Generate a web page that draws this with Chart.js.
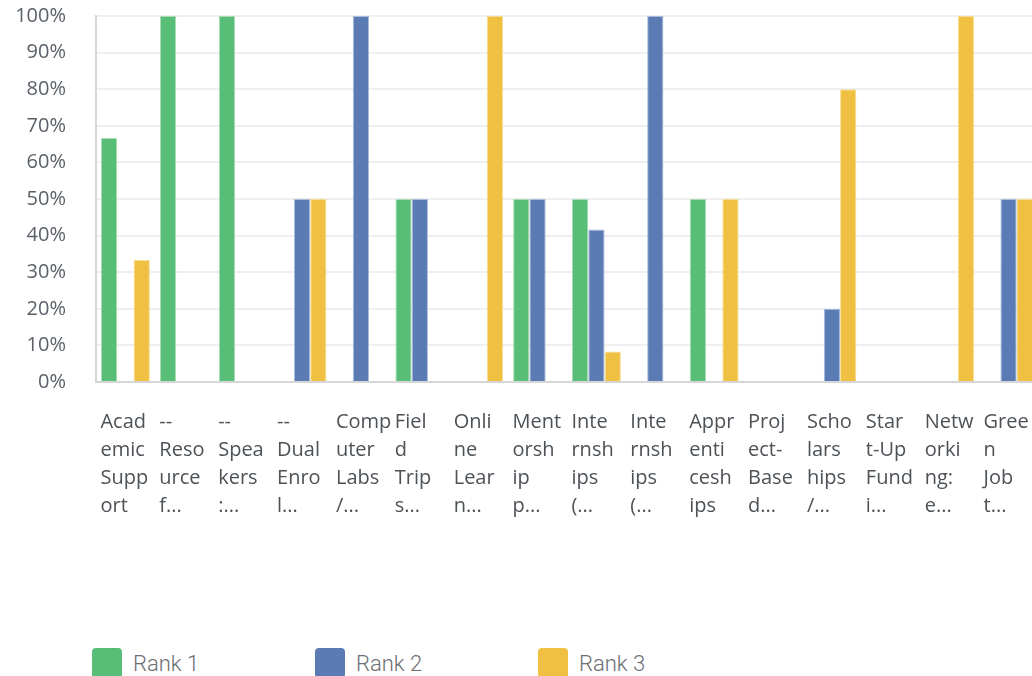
<!DOCTYPE html>
<html>
<head>
<meta charset="utf-8">
<script src="https://cdn.jsdelivr.net/npm/chart.js@4"></script>
<style>
  html, body { margin: 0; padding: 0; background: #fff; overflow: hidden; }
  #wrap { position: relative; width: 1040px; height: 676px; }
  #box { position: absolute; left: 0; top: 0; width: 1038px; height: 540px; }
  #legend { position: absolute; left: 92px; top: 648px; display: flex; font-family: Roboto, sans-serif; font-weight: 300; font-size: 22px; color: #6b6e72; }
  #legend .item { display: flex; align-items: center; width: 223px; }
  #legend .sw { width: 30px; height: 30px; border-radius: 4px; margin-right: 11px; }
</style>
</head>
<body>
<div id="wrap">
  <div id="box"><canvas id="rankChart"></canvas></div>
  <div id="legend"></div>
</div>
<script>
const categories = [
  ['Acad', 'emic', 'Supp', 'ort'],
  ['--', 'Reso', 'urce', 'f...'],
  ['--', 'Spea', 'kers', ':...'],
  ['--', 'Dual', 'Enro', 'l...'],
  ['Comp', 'uter', 'Labs', '/...'],
  ['Fiel', 'd', 'Trip', 's...'],
  ['Onli', 'ne', 'Lear', 'n...'],
  ['Ment', 'orsh', 'ip', 'p...'],
  ['Inte', 'rnsh', 'ips', '(...'],
  ['Inte', 'rnsh', 'ips', '(...'],
  ['Appr', 'enti', 'cesh', 'ips'],
  ['Proj', 'ect-', 'Base', 'd...'],
  ['Scho', 'lars', 'hips', '/...'],
  ['Star', 't-Up', 'Fund', 'i...'],
  ['Netw', 'orki', 'ng:', 'e...'],
  ['Gree', 'n', 'Job', 't...']
];
const rank1 = [66.67, 100, 100, 0, 0, 50, 0, 50, 50, 0, 50, 0, 0, 0, 0, 0];
const rank2 = [0, 0, 0, 50, 100, 50, 0, 50, 41.67, 100, 0, 0, 20, 0, 0, 50];
const rank3 = [33.33, 0, 0, 50, 0, 0, 100, 0, 8.33, 0, 50, 0, 80, 0, 100, 50];
const seriesNames = ['Rank 1', 'Rank 2', 'Rank 3'];
const yTicks = [0, 10, 20, 30, 40, 50, 60, 70, 80, 90, 100];

const colors = ['#58be77', '#5a7bb3', '#efc041'];
const borders = ['#a9dcb6', '#a8bbd9', '#f6dc93'];

const chart = new Chart(document.getElementById('rankChart'), {
  type: 'bar',
  data: {
    labels: categories,
    datasets: [rank1, rank2, rank3].map((vals, i) => ({
      label: seriesNames[i],
      data: vals,
      backgroundColor: colors[i],
      borderColor: borders[i],
      borderWidth: 1,
      borderSkipped: 'bottom',
      barPercentage: 1.0,
      categoryPercentage: 0.83
    }))
  },
  options: {
    responsive: true,
    maintainAspectRatio: false,
    animation: false,
    layout: { padding: { top: 16, left: 0, right: 0, bottom: 0 } },
    plugins: { legend: { display: false }, tooltip: { enabled: false } },
    scales: {
      x: {
        grid: { display: false, drawTicks: false },
        border: { color: '#d6d6d6', width: 2 },
        afterFit: s => { s.paddingLeft = 0; s.paddingRight = 0; s.height = 540 - 382; },
        ticks: {
          autoSkip: false, maxRotation: 0, minRotation: 0,
          align: 'start', labelOffset: -25, padding: 26,
          color: '#4d5257',
          font: { family: 'Open Sans', size: 20, lineHeight: 1.4 }
        }
      },
      y: {
        min: 0, max: 100,
        afterBuildTicks: s => { s.ticks = yTicks.map(v => ({ value: v })); },
        afterFit: s => { s.width = 96; s.paddingTop = 0; s.paddingBottom = 0; },
        grid: { color: '#efefef', lineWidth: 2, drawTicks: false },
        border: { color: '#d6d6d6', width: 2 },
        ticks: {
          padding: 30, color: '#5b6168',
          font: { family: 'Open Sans', size: 20 },
          callback: v => v + '%'
        }
      }
    }
  }
});

const legend = document.getElementById('legend');
seriesNames.forEach((name, i) => {
  const item = document.createElement('div');
  item.className = 'item';
  item.innerHTML = '<span class="sw" style="background:' + colors[i] + '"></span><span>' + name + '</span>';
  legend.appendChild(item);
});
</script>
</body>
</html>
